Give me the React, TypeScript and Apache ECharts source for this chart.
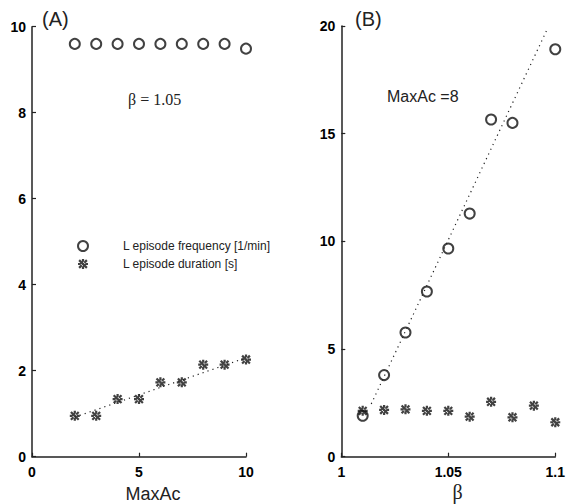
import React, { useEffect, useRef } from "react";
import * as echarts from "echarts";

const maxAc = [2, 3, 4, 5, 6, 7, 8, 9, 10];
const freqA = [9.6, 9.6, 9.6, 9.6, 9.6, 9.6, 9.6, 9.6, 9.49];
const durA = [0.95, 0.95, 1.34, 1.34, 1.73, 1.73, 2.14, 2.14, 2.26];
const fitAX = [2, 10];
const fitAY = [0.92, 2.3];

const betaFreq = [1.01, 1.02, 1.03, 1.04, 1.05, 1.06, 1.07, 1.08, 1.1];
const freqB = [1.9, 3.79, 5.77, 7.67, 9.67, 11.29, 15.66, 15.5, 18.92];
const betaDur = [1.01, 1.02, 1.03, 1.04, 1.05, 1.06, 1.07, 1.08, 1.09, 1.1];
const durB = [2.13, 2.17, 2.2, 2.13, 2.13, 1.86, 2.55, 1.83, 2.37, 1.6];
const fitBX = [1.014, 1.096];
const fitBY = [2.45, 19.8];

const NAME_F = "L episode frequency [1/min]";
const NAME_D = "L episode duration [s]";

const STAR =
  "path://M-4.5,-1L4.5,-1L4.5,1L-4.5,1Z M-1,-4.5L1,-4.5L1,4.5L-1,4.5Z M-2.8,-4.2L4.2,2.8L2.8,4.2L-4.2,-2.8Z M-2.8,4.2L4.2,-2.8L2.8,-4.2L-4.2,2.8Z";

const SANS = "Liberation Sans, Arial, sans-serif";
const SERIF = "Liberation Serif, Times New Roman, serif";

const zip = (xs: number[], ys: number[]) => xs.map((x, i) => [x, ys[i]]);

export default function App() {
  const ref = useRef<HTMLDivElement>(null);
  useEffect(() => {
    const chart = echarts.init(ref.current!, null, { renderer: "svg" });
    const axisLine = { show: true, lineStyle: { color: "#222", width: 1.5 } };
    const axisTick = { show: true, inside: true, length: 4, lineStyle: { color: "#222", width: 1.2 } };
    const tickLabel = { color: "#000", fontSize: 14, fontWeight: "bold", fontFamily: SANS };
    const circleStyle = { color: "#111", borderColor: "#111", borderWidth: 1.3 };
    const starStyle = { color: "#111" };
    const fitStyle = { color: "#222", width: 1.2, type: [1.2, 4] as any };
    chart.setOption({
      animation: false,
      backgroundColor: "#fff",
      grid: [
        { left: 32, top: 26.7, width: 214, height: 430, containLabel: false },
        { left: 341.3, top: 26, width: 214.4, height: 430.7, containLabel: false },
      ],
      xAxis: [
        {
          gridIndex: 0, type: "value", min: 0, max: 10, interval: 5,
          axisLine, axisTick, splitLine: { show: false },
          axisLabel: { ...tickLabel, margin: 8 },
        },
        {
          gridIndex: 1, type: "value", min: 1, max: 1.1, interval: 0.05,
          axisLine, axisTick, splitLine: { show: false },
          axisLabel: {
            ...tickLabel, margin: 8,
            formatter: (v: number) => String(Math.round(v * 100) / 100),
          },
        },
      ],
      yAxis: [
        {
          gridIndex: 0, type: "value", min: 0, max: 10, interval: 2,
          axisLine, axisTick, splitLine: { show: false },
          axisLabel: { ...tickLabel, margin: 6 },
        },
        {
          gridIndex: 1, type: "value", min: 0, max: 20, interval: 5,
          axisLine, axisTick, splitLine: { show: false },
          axisLabel: { ...tickLabel, margin: 6 },
        },
      ],
      legend: {
        data: [
          { name: NAME_F, icon: "emptyCircle", itemStyle: circleStyle },
          { name: NAME_D, icon: STAR, itemStyle: starStyle },
        ],
        orient: "vertical",
        left: 77,
        top: 240,
        itemWidth: 10,
        itemHeight: 10,
        itemGap: 6,
        padding: 0,
        selectedMode: false,
        textStyle: {
          fontSize: 12, color: "#222", fontFamily: SANS,
          padding: [0, 0, 0, 30],
        },
      },
      graphic: [
        { type: "text", left: 42, top: 9, style: { text: "(A)", fontSize: 20, fill: "#222", fontFamily: SANS } },
        { type: "text", left: 355, top: 9, style: { text: "(B)", fontSize: 20, fill: "#222", fontFamily: SANS } },
        { type: "text", left: 128, top: 91, style: { text: "β = 1.05", fontSize: 16, fill: "#222", fontFamily: SERIF } },
        { type: "text", left: 387, top: 88, style: { text: "MaxAc =8", fontSize: 16, fill: "#222", fontFamily: SANS } },
        { type: "text", x: 153, y: 494, style: { text: "MaxAc", fontSize: 18, fill: "#222", fontFamily: SANS, align: "center", verticalAlign: "middle" } },
        { type: "text", x: 457.5, y: 492, style: { text: "β", fontSize: 20, fill: "#222", fontFamily: SERIF, align: "center", verticalAlign: "middle" } },
      ],
      series: [
        {
          name: NAME_D + " fit", type: "line", xAxisIndex: 0, yAxisIndex: 0,
          data: zip(fitAX, fitAY), symbol: "none", lineStyle: fitStyle, silent: true,
        },
        {
          name: NAME_F + " fit", type: "line", xAxisIndex: 1, yAxisIndex: 1,
          data: zip(fitBX, fitBY), symbol: "none", lineStyle: fitStyle, silent: true,
        },
        {
          name: NAME_F, type: "scatter", xAxisIndex: 0, yAxisIndex: 0,
          data: zip(maxAc, freqA), symbol: "emptyCircle", symbolSize: 10, itemStyle: circleStyle,
        },
        {
          name: NAME_D, type: "scatter", xAxisIndex: 0, yAxisIndex: 0,
          data: zip(maxAc, durA), symbol: STAR, symbolSize: 10, itemStyle: starStyle,
        },
        {
          name: NAME_F, type: "scatter", xAxisIndex: 1, yAxisIndex: 1,
          data: zip(betaFreq, freqB), symbol: "emptyCircle", symbolSize: 10, itemStyle: circleStyle,
        },
        {
          name: NAME_D, type: "scatter", xAxisIndex: 1, yAxisIndex: 1,
          data: zip(betaDur, durB), symbol: STAR, symbolSize: 10, itemStyle: starStyle,
        },
      ],
    });
    return () => chart.dispose();
  }, []);
  return (
    <div
      ref={ref}
      style={{ position: "absolute", left: 0, top: 0, width: 568, height: 504, background: "#fff" }}
    />
  );
}
